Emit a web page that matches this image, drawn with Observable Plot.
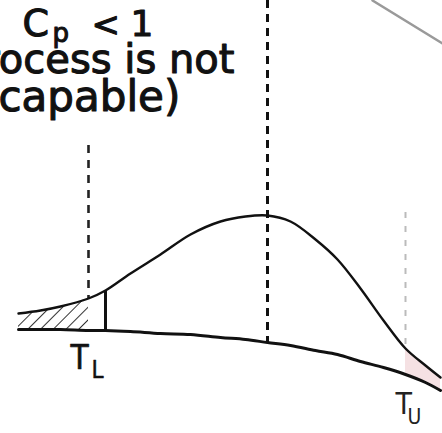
<!DOCTYPE html>
<html>
<head>
<meta charset="utf-8">
<script src="https://cdn.jsdelivr.net/npm/d3@7"></script>
<script src="https://cdn.jsdelivr.net/npm/@observablehq/plot@0.6"></script>
<style>
  html, body { margin: 0; padding: 0; background: #fff; }
  #chart svg { display: block; }
</style>
</head>
<body>
<div id="chart"></div>
<script>
// Sample positions along the measurement axis (drawing units)
const xs = [18, 40, 60, 88, 105, 130, 160, 190, 220, 245, 267, 290, 315, 337, 360, 383, 405, 425, 440];
// Distribution curve height at each sample (drawing units, downward)
const curveY = [313, 310, 306, 298, 290, 273, 254, 234, 221, 216, 215, 221, 239, 259, 288, 320, 348, 365, 377];
// Axis baseline at each sample
const baseY = [329, 329, 329, 330, 330, 331, 333, 334, 337, 339, 342, 345, 350, 354, 361, 367, 374, 382, 390];

// Tolerance limits and process mean
const lowerLimit = 88;
const upperLimit = 405;
const processMean = 267;
const cutX = 105;

// Labels
const titleMain = "C";
const titleSub = "p";
const titleLess = "<";
const titleOne = "1";
const noteLines = ["(Process is not", "capable)"];
const limitLabels = [{name: "T", sub: "L"}, {name: "T", sub: "U"}];

// Page crease in the corner
const creaseX = [372, 442];
const creaseY = [0, 43];

const pts = xs.map((x, i) => ({x, top: curveY[i], base: baseY[i]}));
const yAt = (arr, x) => arr[xs.indexOf(x)];

const W = 442, H = 433;
const font = "DejaVu Sans";
const narrow = "'DejaVu Sans Condensed', 'Liberation Sans Narrow', 'DejaVu Sans'";
const ink = "#111";
const heavy = {fill: ink, stroke: ink, strokeWidth: 1.1};

const chart = Plot.plot({
  width: W,
  height: H,
  margin: 0,
  x: {domain: [0, W], range: [0, W], axis: null},
  y: {domain: [0, H], range: [0, H], axis: null},
  style: {background: "#fff", fontFamily: font},
  marks: [
    // hatched lower tail outside T_L
    Plot.areaY(pts.filter(d => d.x <= lowerLimit), {x: "x", y1: "base", y2: "top", curve: "catmull-rom", fill: "url(#hatch)", stroke: "none"}),
    // faint upper tail outside T_U
    Plot.areaY(pts.filter(d => d.x >= upperLimit), {x: "x", y1: "base", y2: "top", curve: "catmull-rom", fill: "#f3d9dc", fillOpacity: 0.8}),
    // reference lines
    Plot.ruleX([processMean], {y1: 0, y2: yAt(baseY, processMean), stroke: ink, strokeWidth: 3, strokeDasharray: "8,6"}),
    Plot.ruleX([lowerLimit], {y1: 145, y2: yAt(curveY, lowerLimit), stroke: "#222", strokeWidth: 2.6, strokeDasharray: "8,7"}),
    Plot.ruleX([upperLimit], {y1: 212, y2: yAt(curveY, upperLimit), stroke: "#bbb", strokeWidth: 2, strokeDasharray: "6,8"}),
    Plot.ruleX([cutX], {y1: yAt(curveY, cutX), y2: yAt(baseY, cutX), stroke: ink, strokeWidth: 3}),
    // baseline and distribution curve
    Plot.line(pts, {x: "x", y: "base", curve: "catmull-rom", stroke: ink, strokeWidth: 3}),
    Plot.line(pts, {x: "x", y: "top", curve: "catmull-rom", stroke: ink, strokeWidth: 2.4}),
    // corner crease
    Plot.line(creaseX.map((x, i) => ({x, y: creaseY[i]})), {x: "x", y: "y", stroke: "#9a9a9a", strokeWidth: 2.5}),
    // title text
    Plot.text([titleMain], {x: 22, y: 35, text: d => d, textAnchor: "start", lineAnchor: "bottom", fontSize: 38, ...heavy}),
    Plot.text([titleSub], {x: 52, y: 41, text: d => d, textAnchor: "start", lineAnchor: "bottom", fontSize: 26, ...heavy}),
    Plot.text([titleLess], {x: 91, y: 35, text: d => d, textAnchor: "start", lineAnchor: "bottom", fontSize: 34, ...heavy}),
    Plot.text([titleOne], {x: 130, y: 35, text: d => d, textAnchor: "start", lineAnchor: "bottom", fontSize: 36, ...heavy}),
    Plot.text([noteLines[0]], {x: 234, y: 72, text: d => d, textAnchor: "end", lineAnchor: "bottom", fontSize: 40, ...heavy}),
    Plot.text([noteLines[1]], {x: -2, y: 110, text: d => d, textAnchor: "start", lineAnchor: "bottom", fontSize: 42, ...heavy}),
    // limit labels
    Plot.text([limitLabels[0]], {x: 70, y: 368, text: d => d.name, textAnchor: "start", lineAnchor: "bottom", fontFamily: narrow, fontSize: 33, ...heavy, strokeWidth: 0.6}),
    Plot.text([limitLabels[0]], {x: 91, y: 377, text: d => d.sub, textAnchor: "start", lineAnchor: "bottom", fontFamily: narrow, fontSize: 24, ...heavy, strokeWidth: 0.5}),
    Plot.text([limitLabels[1]], {x: 395, y: 413, text: d => d.name, textAnchor: "start", lineAnchor: "bottom", fontFamily: narrow, fontSize: 30, fill: "#222"}),
    Plot.text([limitLabels[1]], {x: 407, y: 423, text: d => d.sub, textAnchor: "start", lineAnchor: "bottom", fontFamily: narrow, fontSize: 21, fill: "#222"})
  ]
});

// diagonal hatch pattern for the tail region
const defs = d3.select(chart).insert("defs", ":first-child");
const pat = defs.append("pattern")
  .attr("id", "hatch")
  .attr("patternUnits", "userSpaceOnUse")
  .attr("width", 9).attr("height", 9)
  .attr("patternTransform", "rotate(45)");
pat.append("line").attr("x1", 0).attr("y1", 0).attr("x2", 0).attr("y2", 9)
  .attr("stroke", "#333").attr("stroke-width", 2);

document.getElementById("chart").appendChild(chart);
</script>
</body>
</html>
